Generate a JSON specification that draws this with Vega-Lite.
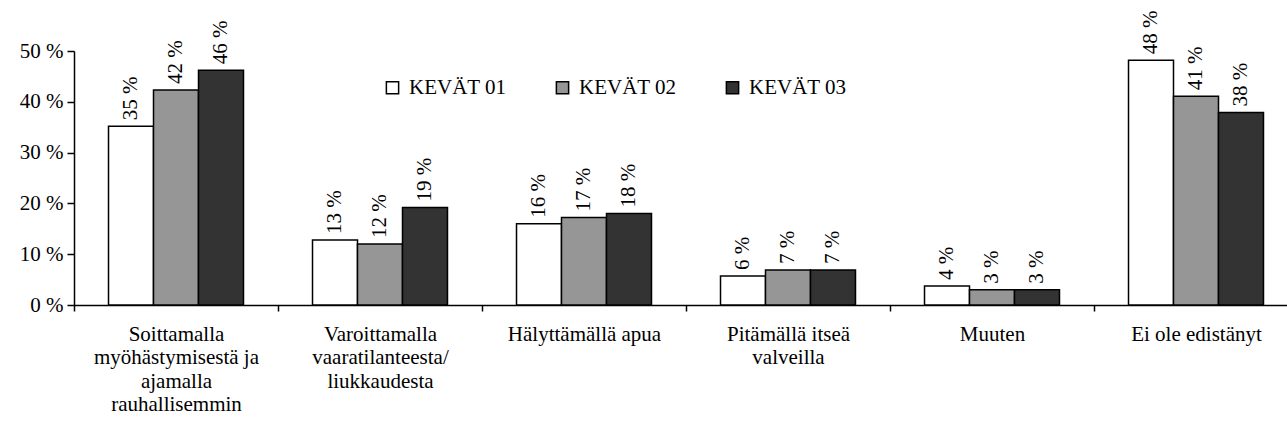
{
  "$schema": "https://vega.github.io/schema/vega-lite/v6.json",
  "width": 1213,
  "height": 254,
  "autosize": {"type": "none"},
  "padding": {"left": 74, "top": 51, "right": 0, "bottom": 131},
  "background": "white",
  "config": {
    "font": "Liberation Serif, Times New Roman, serif",
    "view": {"stroke": null},
    "axis": {"grid": false, "domainColor": "black", "tickColor": "black", "labelColor": "black", "labelFont": "Liberation Serif, Times New Roman, serif", "labelFontSize": 21, "domainWidth": 1.5, "tickWidth": 1.5},
    "legend": {"labelFont": "Liberation Serif, Times New Roman, serif"},
    "text": {"font": "Liberation Serif, Times New Roman, serif"}
  },
  "data": {
    "values": [
      {"cat": "Soittamalla|myöhästymisestä ja|ajamalla|rauhallisemmin", "o": 1, "season": "KEVÄT 01", "value": 35.2, "label": "35 %"},
      {"cat": "Soittamalla|myöhästymisestä ja|ajamalla|rauhallisemmin", "o": 1, "season": "KEVÄT 02", "value": 42.3, "label": "42 %"},
      {"cat": "Soittamalla|myöhästymisestä ja|ajamalla|rauhallisemmin", "o": 1, "season": "KEVÄT 03", "value": 46.2, "label": "46 %"},
      {"cat": "Varoittamalla|vaaratilanteesta/|liukkaudesta", "o": 2, "season": "KEVÄT 01", "value": 12.8, "label": "13 %"},
      {"cat": "Varoittamalla|vaaratilanteesta/|liukkaudesta", "o": 2, "season": "KEVÄT 02", "value": 12.0, "label": "12 %"},
      {"cat": "Varoittamalla|vaaratilanteesta/|liukkaudesta", "o": 2, "season": "KEVÄT 03", "value": 19.2, "label": "19 %"},
      {"cat": "Hälyttämällä apua", "o": 3, "season": "KEVÄT 01", "value": 16.0, "label": "16 %"},
      {"cat": "Hälyttämällä apua", "o": 3, "season": "KEVÄT 02", "value": 17.2, "label": "17 %"},
      {"cat": "Hälyttämällä apua", "o": 3, "season": "KEVÄT 03", "value": 18.0, "label": "18 %"},
      {"cat": "Pitämällä itseä|valveilla", "o": 4, "season": "KEVÄT 01", "value": 5.7, "label": "6 %"},
      {"cat": "Pitämällä itseä|valveilla", "o": 4, "season": "KEVÄT 02", "value": 6.9, "label": "7 %"},
      {"cat": "Pitämällä itseä|valveilla", "o": 4, "season": "KEVÄT 03", "value": 6.9, "label": "7 %"},
      {"cat": "Muuten", "o": 5, "season": "KEVÄT 01", "value": 3.75, "label": "4 %"},
      {"cat": "Muuten", "o": 5, "season": "KEVÄT 02", "value": 3.0, "label": "3 %"},
      {"cat": "Muuten", "o": 5, "season": "KEVÄT 03", "value": 3.0, "label": "3 %"},
      {"cat": "Ei ole edistänyt", "o": 6, "season": "KEVÄT 01", "value": 48.2, "label": "48 %"},
      {"cat": "Ei ole edistänyt", "o": 6, "season": "KEVÄT 02", "value": 41.1, "label": "41 %"},
      {"cat": "Ei ole edistänyt", "o": 6, "season": "KEVÄT 03", "value": 37.9, "label": "38 %"}
    ]
  },
  "encoding": {
    "x": {
      "field": "cat", "type": "nominal", "sort": {"field": "o"},
      "scale": {"range": [0, 1224], "paddingInner": 0, "paddingOuter": 0},
      "axis": {"title": null, "labelAngle": 0, "bandPosition": 0, "tickBand": "extent", "labelExpr": "split(datum.label, '|')", "labelLineHeight": 23.5, "labelPadding": 12, "tickSize": 6, "labelBaseline": "top", "labelLimit": 300, "domainColor": "black", "tickColor": "black", "labelFont": "Liberation Serif, Times New Roman, serif"}
    },
    "xOffset": {"field": "season", "type": "nominal", "scale": {"paddingInner": 0, "paddingOuter": 0.767}},
    "y": {
      "field": "value", "type": "quantitative",
      "scale": {"domain": [0, 50], "nice": false},
      "axis": {"title": null, "values": [0, 10, 20, 30, 40, 50], "labelExpr": "datum.value + ' %'", "tickSize": 7, "labelPadding": 4, "domainColor": "black", "tickColor": "black", "labelFont": "Liberation Serif, Times New Roman, serif"}
    }
  },
  "layer": [
    {
      "mark": {"type": "bar", "stroke": "black", "strokeWidth": 1.5},
      "encoding": {
        "color": {
          "field": "season", "type": "nominal",
          "scale": {"domain": ["KEVÄT 01", "KEVÄT 02", "KEVÄT 03"], "range": ["#ffffff", "#969696", "#333333"]},
          "legend": {
            "title": null, "orient": "none", "direction": "horizontal",
            "legendX": 308, "legendY": 26,
            "symbolType": "square", "symbolSize": 150, "symbolStrokeColor": "black", "symbolStrokeWidth": 1.5,
            "labelFont": "Liberation Serif, Times New Roman, serif", "labelFontSize": 21, "labelColor": "black", "labelOffset": 6,
            "columnPadding": 45
          }
        }
      }
    },
    {
      "mark": {"type": "text", "angle": 270, "align": "left", "baseline": "middle", "dx": 6, "font": "Liberation Serif, Times New Roman, serif", "fontSize": 21, "color": "black"},
      "encoding": {"text": {"field": "label"}}
    }
  ]
}
